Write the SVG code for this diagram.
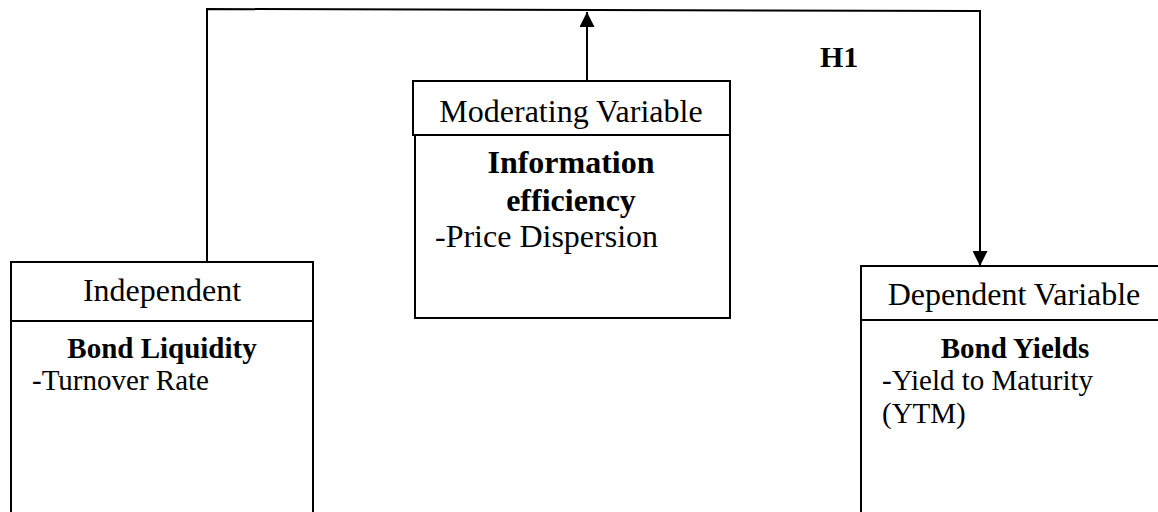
<svg xmlns="http://www.w3.org/2000/svg" width="1158" height="512" viewBox="0 0 1158 512">
<defs>
<style>
.box{fill:#fff;stroke:#000;stroke-width:2}
.ln{fill:none;stroke:#000;stroke-width:2}
.t{font-family:"Liberation Serif","Times New Roman",serif;fill:#000}
.h{font-size:32px}
.b{font-size:29px;font-weight:bold}
.bb{font-size:32px;font-weight:bold}
.s{font-size:29px}
.s32{font-size:32px}
</style>
<marker id="ah" viewBox="0 0 10 10" refX="10" refY="5" markerWidth="15" markerHeight="15" markerUnits="userSpaceOnUse" orient="auto">
<path d="M0,0 L10,5 L0,10 z" fill="#000"/>
</marker>
</defs>
<rect width="1158" height="512" fill="#fff"/>
<g id="connectors">
<path class="ln" d="M207,262 L207,9 L980,11 L980,266" marker-end="url(#ah)"/>
<path class="ln" d="M587,81 L587,12" marker-end="url(#ah)"/>
</g>
<g id="independent">
<rect class="box" x="11" y="262" width="302" height="270"/>
<line class="ln" x1="11" y1="321" x2="313" y2="321"/>
<text class="t h" x="162" y="301" text-anchor="middle">Independent</text>
<text class="t b" x="162" y="358" text-anchor="middle">Bond Liquidity</text>
<text class="t s" x="32" y="390">-Turnover Rate</text>
</g>
<g id="moderating">
<rect class="box" x="415" y="135" width="315" height="183"/>
<rect class="box" x="413" y="81" width="317" height="54"/>
<text class="t h" x="571" y="122" text-anchor="middle">Moderating Variable</text>
<text class="t bb" x="571" y="173" text-anchor="middle">Information</text>
<text class="t bb" x="571" y="211" text-anchor="middle">efficiency</text>
<text class="t s32" x="435" y="247">-Price Dispersion</text>
</g>
<g id="dependent">
<rect class="box" x="861" y="266" width="310" height="266"/>
<line class="ln" x1="861" y1="320" x2="1171" y2="320"/>
<text class="t h" x="1014" y="305" text-anchor="middle">Dependent Variable</text>
<text class="t b" x="1015" y="358" text-anchor="middle">Bond Yields</text>
<text class="t s" x="882" y="390">-Yield to Maturity</text>
<text class="t s" x="882" y="423">(YTM)</text>
</g>
<g id="h1">
<text class="t" x="820" y="67" font-size="30" font-weight="bold">H1</text>
</g>
</svg>
